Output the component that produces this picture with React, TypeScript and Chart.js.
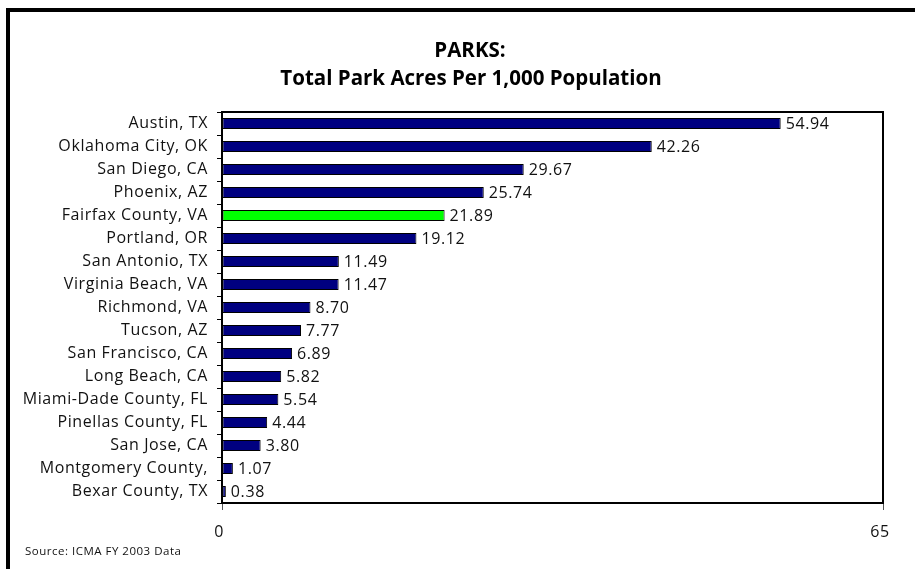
import React, { useEffect, useRef } from "react";
import { Chart, registerables } from "chart.js";

Chart.register(...registerables);

const categories = [
  "Austin, TX",
  "Oklahoma City, OK",
  "San Diego, CA",
  "Phoenix, AZ",
  "Fairfax County, VA",
  "Portland, OR",
  "San Antonio, TX",
  "Virginia Beach, VA",
  "Richmond, VA",
  "Tucson, AZ",
  "San Francisco, CA",
  "Long Beach, CA",
  "Miami-Dade County, FL",
  "Pinellas County, FL",
  "San Jose, CA",
  "Montgomery County,",
  "Bexar County, TX",
];
const values = [
  54.94, 42.26, 29.67, 25.74, 21.89, 19.12, 11.49, 11.47, 8.7, 7.77, 6.89, 5.82,
  5.54, 4.44, 3.8, 1.07, 0.38,
];
const highlighted = "Fairfax County, VA";
const xTickValues = [0, 65];
const titleLines = ["PARKS:", "Total Park Acres Per 1,000 Population"];
const sourceNote = "Source: ICMA FY 2003 Data";

const FONT = "'Open Sans', Lato, sans-serif";
const NAVY = "#000080";
const GREEN = "#00ff00";
const SPACING = "0.6px";

export default function App() {
  const canvasRef = useRef<HTMLCanvasElement | null>(null);

  useEffect(() => {
    const canvas = canvasRef.current;
    if (!canvas) return;

    const decorPlugin = {
      id: "decor",
      beforeDraw(chart: any) {
        const { ctx } = chart;
        ctx.save();
        ctx.fillStyle = "#fff";
        ctx.fillRect(0, 0, chart.width, chart.height);
        ctx.restore();
        (ctx as any).letterSpacing = SPACING;
      },
      afterDatasetsDraw(chart: any) {
        const { ctx, chartArea } = chart;
        ctx.save();
        (ctx as any).letterSpacing = SPACING;
        // value labels
        ctx.font = `16px ${FONT}`;
        ctx.fillStyle = "#111";
        ctx.textAlign = "left";
        ctx.textBaseline = "middle";
        const meta = chart.getDatasetMeta(0);
        meta.data.forEach((bar: any, i: number) => {
          ctx.fillText(values[i].toFixed(2), bar.x + 5, bar.y + 1);
        });
        // plot frame
        ctx.strokeStyle = "#000";
        ctx.lineWidth = 2;
        ctx.strokeRect(
          chartArea.left,
          chartArea.top,
          chartArea.right - chartArea.left,
          chartArea.bottom - chartArea.top
        );
        ctx.restore();
      },
      afterDraw(chart: any) {
        const { ctx } = chart;
        ctx.save();
        (ctx as any).letterSpacing = "0px";
        // outer frame (top & left visible)
        ctx.fillStyle = "#000";
        ctx.fillRect(6, 8, chart.width - 6, 4);
        ctx.fillRect(6, 8, 4, chart.height - 8);
        // title
        ctx.fillStyle = "#000";
        ctx.textAlign = "center";
        ctx.textBaseline = "alphabetic";
        ctx.font = `bold 20.5px ${FONT}`;
        ctx.fillText(titleLines[0], 470, 57);
        ctx.fillText(titleLines[1], 471, 85);
        // source
        ctx.textAlign = "left";
        (ctx as any).letterSpacing = "0.5px";
        ctx.font = `11.5px ${FONT}`;
        ctx.fillStyle = "#111";
        ctx.fillText(sourceNote, 25, 555);
        ctx.restore();
      },
    };

    const chart = new Chart(canvas, {
      type: "bar",
      data: {
        labels: categories,
        datasets: [
          {
            data: values,
            backgroundColor: categories.map((c) => (c === highlighted ? GREEN : NAVY)),
            borderColor: "#000",
            borderWidth: 1,
            borderSkipped: false,
            categoryPercentage: 1,
            barPercentage: 0.48,
          },
        ],
      },
      options: {
        indexAxis: "y",
        responsive: false,
        animation: false,
        devicePixelRatio: 1,
        layout: { padding: { left: 0, right: 32, top: 112, bottom: 6 } },
        plugins: {
          legend: { display: false },
          tooltip: { enabled: false },
          title: { display: false },
        },
        scales: {
          x: {
            type: "linear",
            min: 0,
            max: 65,
            afterBuildTicks: (scale: any) => {
              scale.ticks = xTickValues.map((v) => ({ value: v }));
            },
            afterFit: (scale: any) => {
              scale.height = 60;
            },
            border: { display: false },
            grid: {
              drawOnChartArea: false,
              drawTicks: true,
              tickLength: 7,
              color: "#555",
            },
            ticks: {
              padding: 13,
              labelOffset: -3,
              color: "#111",
              font: { family: FONT, size: 16 },
              maxRotation: 0,
            },
          },
          y: {
            type: "category",
            afterFit: (scale: any) => {
              scale.width = 222;
            },
            border: { display: false },
            grid: {
              offset: true,
              drawOnChartArea: false,
              drawTicks: true,
              tickLength: 5,
              color: "#000",
            },
            ticks: {
              padding: 9,
              color: "#111",
              font: { family: FONT, size: 16 },
              autoSkip: false,
            },
          },
        },
      },
      plugins: [decorPlugin],
    });

    return () => chart.destroy();
  }, []);

  return (
    <div style={{ position: "fixed", left: 0, top: 0, width: 915, height: 569 }}>
      <canvas ref={canvasRef} width={915} height={569} style={{ display: "block" }} />
    </div>
  );
}
